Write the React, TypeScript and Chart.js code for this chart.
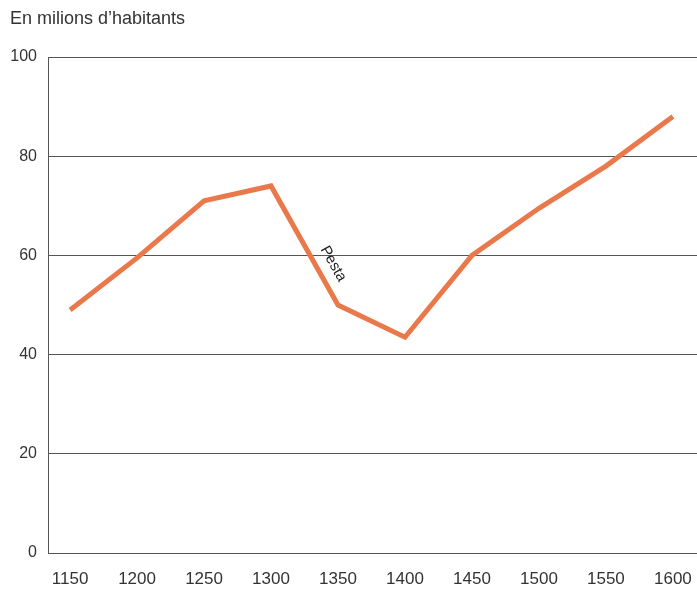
import React, { useEffect, useRef } from "react";
import { Chart, registerables } from "chart.js";

Chart.register(...registerables);

const years = [1150, 1200, 1250, 1300, 1350, 1400, 1450, 1500, 1550, 1600];
const population = [49, 59.5, 71, 74, 50, 43.5, 60, 69.5, 78, 88];
const yTicks = [0, 20, 40, 60, 80, 100];
const titleText = "En milions d\u2019habitants";
const plagueLabel = "Pesta";
const plagueSegmentStart = 3; // 1300 -> 1350

const FONT = "'Liberation Sans', Arial, sans-serif";

const annotationPlugin = {
  id: "annotations",
  afterDraw(chart: any) {
    const ctx = chart.ctx;
    ctx.save();
    ctx.fillStyle = "#333";
    ctx.font = `18px ${FONT}`;
    ctx.textBaseline = "top";
    ctx.textAlign = "left";
    ctx.fillText(titleText, 10, 10);

    const meta = chart.getDatasetMeta(0);
    const p1 = meta.data[plagueSegmentStart];
    const p2 = meta.data[plagueSegmentStart + 1];
    if (p1 && p2) {
      const dx = p2.x - p1.x;
      const dy = p2.y - p1.y;
      const len = Math.sqrt(dx * dx + dy * dy);
      const ux = dx / len;
      const uy = dy / len;
      const t = 0.72;
      const off = 16;
      const cx = p1.x + dx * t + uy * off;
      const cy = p1.y + dy * t - ux * off;
      ctx.translate(cx, cy);
      ctx.rotate(Math.atan2(dy, dx));
      ctx.font = `15px ${FONT}`;
      ctx.fillStyle = "#222";
      ctx.textAlign = "center";
      ctx.textBaseline = "middle";
      ctx.fillText(plagueLabel, 0, 0);
    }
    ctx.restore();
  },
};

export default function App() {
  const canvasRef = useRef<HTMLCanvasElement | null>(null);

  useEffect(() => {
    if (!canvasRef.current) return;
    const chart = new Chart(canvasRef.current, {
      type: "line",
      data: {
        datasets: [
          {
            data: years.map((y, i) => ({ x: y, y: population[i] })),
            borderColor: "#E9794A",
            borderWidth: 5,
            pointRadius: 0,
            tension: 0,
            borderJoinStyle: "miter",
          },
        ],
      },
      options: {
        animation: false,
        responsive: false,
        maintainAspectRatio: false,
        layout: { padding: { top: 57, left: 0, right: 0, bottom: 0 } },
        plugins: {
          legend: { display: false },
          tooltip: { enabled: false },
          title: { display: false },
        },
        scales: {
          x: {
            type: "linear",
            min: 1133.5,
            max: 1618,
            afterFit: (scale: any) => {
              scale.height = 40;
              scale.paddingLeft = 0;
              scale.paddingRight = 0;
            },
            afterBuildTicks: (scale: any) => {
              scale.ticks = years.map((v) => ({ value: v }));
            },
            grid: { display: false, drawTicks: false },
            border: { display: false },
            ticks: {
              padding: 16,
              color: "#333",
              font: { family: FONT, size: 17 },
              callback: (v: any) => String(v),
              autoSkip: false,
              maxRotation: 0,
            },
          },
          y: {
            min: 0,
            max: 100,
            afterFit: (scale: any) => {
              scale.width = 48;
              scale.paddingTop = 0;
              scale.paddingBottom = 0;
            },
            afterBuildTicks: (scale: any) => {
              scale.ticks = yTicks.map((v) => ({ value: v }));
            },
            grid: { color: "#555", lineWidth: 1, drawTicks: false },
            border: { display: true, color: "#555", width: 1 },
            ticks: {
              padding: 11,
              color: "#333",
              font: { family: FONT, size: 16 },
            },
          },
        },
      },
      plugins: [annotationPlugin],
    } as any);
    return () => chart.destroy();
  }, []);

  return (
    <div style={{ position: "fixed", left: 0, top: 0, width: 697, height: 593, background: "#fff" }}>
      <canvas ref={canvasRef} width={697} height={593} style={{ width: 697, height: 593, display: "block" }} />
    </div>
  );
}
